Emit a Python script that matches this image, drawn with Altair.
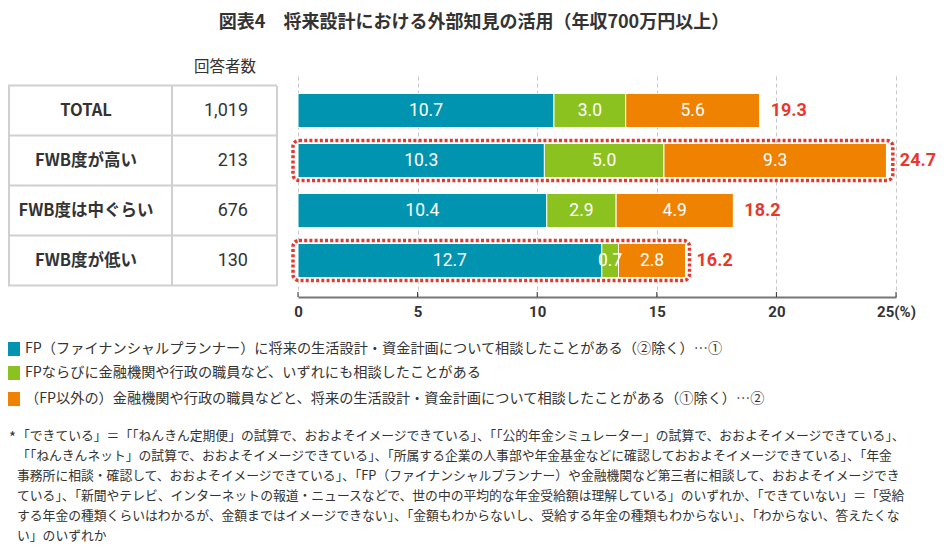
import altair as alt
import pandas as pd

# ---------------- data ----------------
title_text = "図表4　将来設計における外部知見の活用（年収700万円以上）"
categories = ["TOTAL", "FWB度が高い", "FWB度は中ぐらい", "FWB度が低い"]
respondents = ["1,019", "213", "676", "130"]
series_names = [
    "FP（ファイナンシャルプランナー）に将来の生活設計・資金計画について相談したことがある（②除く）…①",
    "FPならびに金融機関や行政の職員など、いずれにも相談したことがある",
    "（FP以外の）金融機関や行政の職員などと、将来の生活設計・資金計画について相談したことがある（①除く）…②",
]
fp_only = [10.7, 10.3, 10.4, 12.7]
both = [3.0, 5.0, 2.9, 0.7]
other_only = [5.6, 9.3, 4.9, 2.8]
totals = [19.3, 24.7, 18.2, 16.2]
highlighted = [False, True, False, True]
x_ticks = [0, 5, 10, 15, 20, 25]
colors = ["#0094b1", "#8cc21f", "#ef8200"]
footnote_lines = [
    "「できている」＝「「ねんきん定期便」の試算で、おおよそイメージできている」、「「公的年金シミュレーター」の試算で、おおよそイメージできている」、",
    "「「ねんきんネット」の試算で、おおよそイメージできている」、「所属する企業の人事部や年金基金などに確認しておおよそイメージできている」、「年金",
    "事務所に相談・確認して、おおよそイメージできている」、「FP（ファイナンシャルプランナー）や金融機関など第三者に相談して、おおよそイメージでき",
    "ている」、「新聞やテレビ、インターネットの報道・ニュースなどで、世の中の平均的な年金受給額は理解している」のいずれか、「できていない」＝「受給",
    "する年金の種類くらいはわかるが、金額まではイメージできない」、「金額もわからないし、受給する年金の種類もわからない」、「わからない、答えたくな",
    "い」のいずれか",
]

# ---------------- tables ----------------
rows = []
for i, c in enumerate(categories):
    vals = [fp_only[i], both[i], other_only[i]]
    start = 0.0
    for j, v in enumerate(vals):
        rows.append({"category": c, "series": series_names[j], "order": j,
                     "start": start, "end": start + v, "mid": start + v / 2,
                     "label": f"{v:.1f}"})
        start += v
seg = pd.DataFrame(rows)
tot = pd.DataFrame({"category": categories, "total": totals,
                    "label": [f"{t:.1f}" for t in totals],
                    "n": respondents, "hl": highlighted, "zero": 0.0})
hl = tot[tot["hl"]]
ticks_df = pd.DataFrame({"v": x_ticks})
legend_df = pd.DataFrame({"series": series_names, "idx": [0, 1, 2]})
foot_df = pd.DataFrame({"line": footnote_lines, "idx": list(range(len(footnote_lines)))})

JP = "Noto Sans CJK JP"
NUM = "Roboto"
W, H = 598, 223

xscale = alt.Scale(domain=[0, 25], nice=False, zero=True)
yenc = alt.Y("category:N", sort=categories,
             scale=alt.Scale(paddingInner=0.32, paddingOuter=0.39), axis=None)
cscale = alt.Scale(domain=series_names, range=colors)

bars = alt.Chart(seg).mark_bar(stroke="white", strokeWidth=1).encode(
    x=alt.X("start:Q", scale=xscale,
            axis=alt.Axis(values=x_ticks, title=None, grid=True, gridDash=[4, 3],
                          gridColor="#c8c8c8", gridWidth=1, ticks=False,
                          domainColor="#777777", domainWidth=2,
                          labelFont=NUM, labelFontWeight="bold", labelFontSize=15,
                          labelColor="#333333", labelPadding=7, labelFlush=False,
                          labelOverlap=False, labelBound=False,
                          labelExpr="datum.value == 25 ? '25(%)' : datum.label")),
    x2="end:Q",
    y=yenc,
    color=alt.Color("series:N", scale=cscale, legend=None),
)

seg_text = alt.Chart(seg).mark_text(color="white", font=NUM, fontSize=17.5).encode(
    x=alt.X("mid:Q", scale=xscale), y=yenc, text="label:N")

tot_text = alt.Chart(tot).mark_text(color="#e8382d", font=NUM, fontSize=18,
                                    fontWeight="bold", align="left", dx=11).encode(
    x=alt.X("total:Q", scale=xscale), y=yenc, text="label:N")

outline = alt.Chart(hl).mark_bar(size=40, fillOpacity=0, stroke="#e8382d",
                                 strokeWidth=3.5, strokeDash=[3, 2.2],
                                 cornerRadius=6, xOffset=-5, x2Offset=4).encode(
    x=alt.X("zero:Q", scale=xscale), x2="total:Q", y=yenc)

tick_marks = alt.Chart(ticks_df).mark_rule(color="#333333", strokeWidth=1).encode(
    x=alt.X("v:Q", scale=xscale), y=alt.value(H - 5), y2=alt.value(H))

# ---- table on the left ----
row_lab = alt.Chart(tot).mark_text(font=JP, fontSize=16.5, fontWeight="bold",
                                   color="#333333").encode(
    x=alt.value(-212), y=yenc, text="category:N")
row_n = alt.Chart(tot).mark_text(font=NUM, fontSize=18, color="#333333",
                                 align="right").encode(
    x=alt.value(-50), y=yenc, text="n:N")
hline_top = alt.Chart(tot).mark_rule(color="#d0d0d0", strokeWidth=2, yOffset=-25).encode(
    x=alt.value(-290), x2=alt.value(-21), y=yenc)
hline_bot = alt.Chart(tot.tail(1)).mark_rule(color="#d0d0d0", strokeWidth=2, yOffset=25).encode(
    x=alt.value(-290), x2=alt.value(-21), y=yenc)
vlines = [
    alt.Chart(tot.head(1)).mark_rule(color="#d0d0d0", strokeWidth=2).encode(
        x=alt.value(xv), y=alt.value(12), y2=alt.value(212))
    for xv in (-289, -126, -21)
]
header = alt.Chart(tot.head(1)).mark_text(font=JP, fontSize=15.5, color="#333333").encode(
    x=alt.value(-73), y=alt.value(-7), text=alt.value("回答者数"))

title = alt.Chart(tot.head(1)).mark_text(font=JP, fontSize=18, fontWeight="bold",
                                         color="#333333").encode(
    x=alt.value(176), y=alt.value(-51), text=alt.value(title_text))

# ---- legend ----
leg_y = {0: 275, 1: 299, 2: 325}
legend_layers = []
for i, s in enumerate(series_names):
    d = legend_df[legend_df["idx"] == i]
    legend_layers.append(
        alt.Chart(d).mark_rect().encode(
            x=alt.value(-290), x2=alt.value(-278),
            y=alt.value(leg_y[i] - 7), y2=alt.value(leg_y[i] + 7),
            color=alt.Color("series:N", scale=cscale, legend=None)))
    legend_layers.append(
        alt.Chart(d).mark_text(font=JP, fontSize=14.2, color="#333333",
                               align="left").encode(
            x=alt.value(-273), y=alt.value(leg_y[i]), text="series:N"))

# ---- footnote ----
foot_layers = [
    alt.Chart(tot.head(1)).mark_text(font=JP, fontSize=15, color="#333333",
                                     align="left").encode(
        x=alt.value(-289), y=alt.value(364), text=alt.value("*"))
]
for i, line in enumerate(footnote_lines):
    d = foot_df[foot_df["idx"] == i]
    foot_layers.append(
        alt.Chart(d).mark_text(font=JP, fontSize=12.8, color="#333333",
                               align="left").encode(
            x=alt.value(-281), y=alt.value(362 + 20 * i), text="line:N"))

chart = alt.layer(
    bars, seg_text, outline, tot_text, tick_marks,
    hline_top, hline_bot, *vlines, row_lab, row_n, header, title,
    *legend_layers, *foot_layers,
).properties(
    width=W, height=H,
    padding={"left": 290, "top": 66, "right": 44, "bottom": 250},
    autosize=alt.AutoSizeParams(type="none"),
).configure_view(stroke=None)

chart.save("out.html", embed_options={"renderer": "svg", "actions": False})
